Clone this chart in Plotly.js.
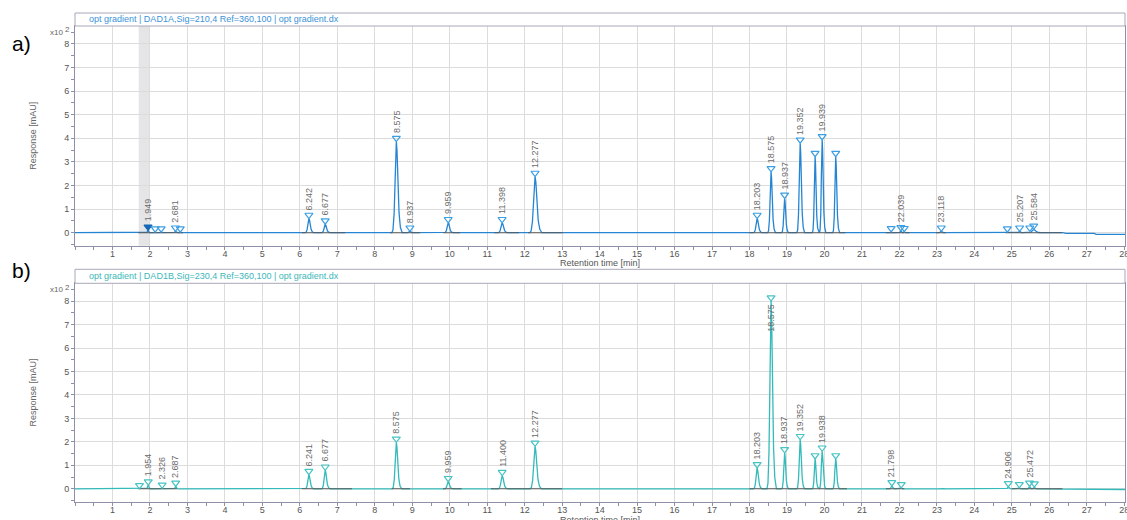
<!DOCTYPE html>
<html>
<head>
<meta charset="utf-8">
<script src="https://cdn.plot.ly/plotly-3.0.1.min.js"></script>
<style>
  html, body { margin: 0; padding: 0; background: #fff; }
  #chart { width: 1127px; height: 520px; }
</style>
</head>
<body>
<div id="chart"></div>
<script>
// ---- DAD1A, Sig=210,4 : detected peaks ----
// retention time (min), apex height (x10^2 mAU), half-width (min), peak label
const rtA  = [1.949, 2.14, 2.30, 2.681, 2.81, 6.242, 6.677, 8.575, 8.937, 9.959, 11.398, 12.277,
              18.203, 18.575, 18.937, 19.352, 19.75, 19.939, 20.30, 21.78, 22.039, 22.13,
              23.118, 24.88, 25.207, 25.48, 25.584];
const hA   = [0.10, 0.02, 0.02, 0.06, 0.02, 0.60, 0.36, 3.86, 0.06, 0.42, 0.42, 2.38,
              0.60, 2.58, 1.45, 3.79, 3.22, 3.93, 3.22, 0.03, 0.08, 0.04,
              0.06, 0.02, 0.06, 0.06, 0.14];
const wA   = [0.05, 0.04, 0.04, 0.05, 0.04, 0.10, 0.10, 0.12, 0.07, 0.10, 0.11, 0.14,
              0.10, 0.09, 0.08, 0.09, 0.075, 0.075, 0.08, 0.06, 0.045, 0.03,
              0.06, 0.05, 0.06, 0, 0.14];
const lblA = ["1.949", "", "", "2.681", "", "6.242", "6.677", "8.575", "8.937", "9.959", "11.398", "12.277",
              "18.203", "18.575", "18.937", "19.352", "", "19.939", "", "", "22.039", "",
              "23.118", "", "25.207", "", "25.584"];
// integration baselines (start, end in min)
const baseA = [[1.69, 2.88], [6.05, 7.21], [8.41, 9.21], [9.83, 10.27], [11.19, 11.85], [12.09, 13.01],
               [18.0, 20.56], [21.64, 22.27], [22.98, 23.24], [24.84, 26.34]];
// late baseline drift (min, x10^2 mAU)
const driftAx = [26.35, 26.45, 27.2, 27.25, 28.1];
const driftAy = [0, -0.03, -0.03, -0.07, -0.07];

// ---- DAD1B, Sig=230,4 : detected peaks ----
const rtB  = [1.72, 1.954, 2.326, 2.687, 6.241, 6.677, 8.575, 9.959, 11.400, 12.277,
              18.203, 18.575, 18.937, 19.352, 19.75, 19.938, 20.30, 21.798, 22.05,
              23.12, 24.12, 24.906, 25.20, 25.472, 25.60];
const hB   = [0.0, 0.16, 0.02, 0.10, 0.60, 0.79, 1.98, 0.30, 0.56, 1.81,
              0.89, 8.00, 1.53, 2.09, 1.27, 1.60, 1.27, 0.12, 0.04,
              0.03, 0.03, 0.08, 0.04, 0.10, 0.07];
const wB   = [0, 0.05, 0.04, 0.05, 0.10, 0.10, 0.11, 0.10, 0.11, 0.13,
              0.10, 0.11, 0.08, 0.09, 0.075, 0.075, 0.08, 0.06, 0.04,
              0.08, 0.10, 0.06, 0.05, 0.05, 0.05];
// null = no peak marker
const lblB = ["", "1.954", "2.326", "2.687", "6.241", "6.677", "8.575", "9.959", "11.400", "12.277",
              "18.203", "18.575", "18.937", "19.352", "", "19.938", "", "21.798", "",
              null, null, "24.906", "", "25.472", ""];
const baseB = [[1.69, 2.72], [6.05, 7.39], [8.45, 8.94], [9.82, 10.32], [11.1, 13.0],
               [18.0, 20.6], [21.64, 22.13], [25.0, 26.35]];
const driftBx = [26.45, 26.55, 28.1];
const driftBy = [0, -0.03, -0.03];

// axis ticks
const xTicks = [1, 2, 3, 4, 5, 6, 7, 8, 9, 10, 11, 12, 13, 14, 15, 16, 17, 18, 19, 20,
                21, 22, 23, 24, 25, 26, 27, 28];
const yTicks = [0, 1, 2, 3, 4, 5, 6, 7, 8];

// normalised peak profile (offset in half-widths, fraction of apex), slightly tailing
const PROFILE_DX = [-1.0, -0.75, -0.5, -0.3, -0.15, 0, 0.15, 0.35, 0.6, 0.9, 1.3];
const PROFILE_Y  = [0, 0.03, 0.2, 0.6, 0.92, 1, 0.9, 0.55, 0.22, 0.06, 0];

const Y_MAX = 8.76, Y_MIN = -0.55;
const MARK_UP = 0.15;       // triangle sits just above the apex

function signal(rt, h, w, dx, dy) {
  const xs = [0], ys = [0];
  rt.forEach((t, i) => {
    if (!w[i]) return;
    PROFILE_DX.forEach((d, k) => { xs.push(t + d * w[i]); ys.push(h[i] * PROFILE_Y[k]); });
  });
  dx.forEach((x, i) => { xs.push(x); ys.push(dy[i]); });
  return { x: xs, y: ys };
}

function baselines(segs) {
  const xs = [], ys = [];
  segs.forEach(s => { xs.push(s[0], s[1], null); ys.push(0, 0, null); });
  return { x: xs, y: ys };
}

const FONT = "Liberation Sans, Arial, sans-serif";
const LABEL_GREY = "#6b6b6b";

function panelTraces(rt, h, w, lbl, segs, dx, dy, xa, ya, lineCol, markCol, filledIdx) {
  const s = signal(rt, h, w, dx, dy);
  const b = baselines(segs);
  const mx = [], my = [], sym = [], mcol = [];
  rt.forEach((t, i) => {
    if (lbl[i] === null) return;
    mx.push(t); my.push(h[i] + MARK_UP);
    sym.push(i === filledIdx ? "triangle-down" : "triangle-down-open");
    mcol.push(i === filledIdx ? "#1668b8" : markCol);
  });
  return [
    { type: "scatter", mode: "lines", x: s.x, y: s.y, xaxis: xa, yaxis: ya,
      line: { color: lineCol, width: 1.3 }, hoverinfo: "skip" },
    { type: "scatter", mode: "lines", x: b.x, y: b.y, xaxis: xa, yaxis: ya,
      line: { color: "#5a5a5a", width: 1.1 }, connectgaps: false, hoverinfo: "skip" },
    { type: "scatter", mode: "markers", x: mx, y: my, xaxis: xa, yaxis: ya,
      marker: { symbol: sym, size: 7, color: mcol, line: { color: mcol, width: 1.2 } },
      hoverinfo: "skip" }
  ];
}

function peakLabels(rt, h, lbl, xa, ya) {
  const out = [];
  rt.forEach((t, i) => {
    if (!lbl[i]) return;
    const y = h[i] + MARK_UP;
    const above = y + 1.3 < Y_MAX;
    out.push({
      x: t, y: y, xref: xa, yref: ya, text: lbl[i], showarrow: false,
      textangle: -90, xanchor: "center",
      yanchor: above ? "bottom" : "top", yshift: above ? 3 : -4,
      font: { family: FONT, size: 9, color: LABEL_GREY }
    });
  });
  return out;
}

const traces = [].concat(
  panelTraces(rtA, hA, wA, lblA, baseA, driftAx, driftAy, "x", "y", "#2585d2", "#3d9fe3", 0),
  panelTraces(rtB, hB, wB, lblB, baseB, driftBx, driftBy, "x2", "y2", "#33baba", "#47c3c3", -1)
);

const FRAME = "#8f8fa6";
const GRID = "#dcdcdc";

function xAxis(anchor) {
  return {
    domain: [0, 1], anchor: anchor, range: [0, 28.02], tickvals: xTicks,
    showgrid: true, gridcolor: GRID, gridwidth: 1, zeroline: false,
    showline: true, linecolor: FRAME, linewidth: 1, mirror: true,
    ticks: "outside", ticklen: 3, tickcolor: FRAME, ticklabeloverflow: "allow",
    ticklabelstandoff: -4,
    minor: { dtick: 0.5, ticks: "outside", ticklen: 3, tickcolor: FRAME, showgrid: false },
    tickfont: { family: FONT, size: 9, color: "#555" }
  };
}
function yAxis(dom, anchor) {
  return {
    domain: dom, anchor: anchor, range: [Y_MIN, Y_MAX], tickvals: yTicks,
    showgrid: true, gridcolor: GRID, gridwidth: 1, zeroline: false,
    showline: true, linecolor: FRAME, linewidth: 1, mirror: true,
    ticks: "outside", ticklen: 3, tickcolor: FRAME,
    minor: { dtick: 0.5, ticks: "outside", ticklen: 3, tickcolor: FRAME, showgrid: false },
    tickfont: { family: FONT, size: 9, color: "#555" },
    title: { text: "Response [mAU]", font: { family: FONT, size: 9, color: "#666" }, standoff: 26 }
  };
}

const H = 520;
const py = px => 1 - px / H;          // pixel row -> paper y
const pxx = px => (px - 75) / 1050;   // pixel column -> paper x

function note(x, y, text, size, color, xanchor) {
  return { xref: "paper", yref: "paper", x: x, y: y, xanchor: xanchor || "center", yanchor: "middle",
           text: text, showarrow: false, font: { family: FONT, size: size, color: color } };
}

const layout = {
  width: 1127, height: 520,
  margin: { l: 75, r: 2, t: 0, b: 0 },
  paper_bgcolor: "#fff", plot_bgcolor: "#fff",
  showlegend: false,
  xaxis: xAxis("y"),
  yaxis: yAxis([py(245.7), py(26)], "x"),
  xaxis2: xAxis("y2"),
  yaxis2: yAxis([py(501.7), py(283.3)], "x2"),
  shapes: [
    // integration window marker
    { type: "rect", xref: "x", yref: "y domain", x0: 1.7, x1: 2.0, y0: 0, y1: 1,
      fillcolor: "#e5e5e7", line: { width: 0 }, layer: "below" },
    // header strips
    { type: "rect", xref: "paper", yref: "paper", x0: 0, x1: 1, y0: py(26), y1: py(13),
      fillcolor: "#fff", line: { color: "#a8a8ba", width: 1 } },
    { type: "rect", xref: "paper", yref: "paper", x0: 0, x1: 1, y0: py(283.3), y1: py(269.3),
      fillcolor: "#fff", line: { color: "#a8a8ba", width: 1 } }
  ],
  annotations: [
    note(pxx(87), py(19.5), "opt gradient | DAD1A,Sig=210,4 Ref=360,100 | opt gradient.dx", 9, "#3b93d8", "left"),
    note(pxx(87), py(276.3), "opt gradient | DAD1B,Sig=230,4 Ref=360,100 | opt gradient.dx", 9, "#3bb8b8", "left"),
    note(pxx(21), py(43), "a)", 21, "#000"),
    note(pxx(21), py(270), "b)", 21, "#000"),
    note(pxx(56), py(32), "x10", 8, "#666"),
    note(pxx(67.5), py(29.5), "2", 8, "#666"),
    note(pxx(56), py(289.5), "x10", 8, "#666"),
    note(pxx(67.5), py(287), "2", 8, "#666"),
    note(pxx(600), py(262.5), "Retention time [min]", 9, "#555"),
    note(pxx(600), py(519.5), "Retention time [min]", 9, "#555")
  ].concat(peakLabels(rtA, hA, lblA, "x", "y"), peakLabels(rtB, hB, lblB, "x2", "y2"))
};

Plotly.newPlot("chart", traces, layout, { displayModeBar: false, staticPlot: true });
</script>
</body>
</html>
